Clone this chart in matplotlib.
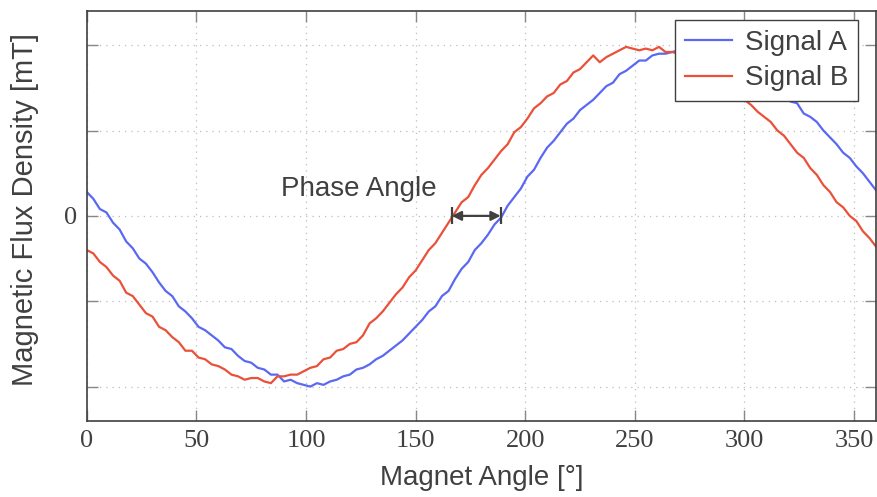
import matplotlib

matplotlib.use("Agg")
import matplotlib.pyplot as plt
import numpy as np

_BLUE = "#5a68f2"
_RED = "#eb5038"
_INK = "#404040"

# magnet angle in degrees, one reading every 3 degrees
angles = np.arange(0, 361, 3)

signal_a = [
    0.14, 0.10, 0.04, 0.02, -0.04, -0.08, -0.15, -0.19, -0.25, -0.28,
    -0.33, -0.39, -0.44, -0.47, -0.53, -0.56, -0.60, -0.65, -0.67, -0.70,
    -0.73, -0.77, -0.78, -0.82, -0.85, -0.86, -0.89, -0.90, -0.93, -0.93,
    -0.97, -0.96, -0.98, -0.99, -1.00, -0.98, -0.99, -0.97, -0.96, -0.94,
    -0.93, -0.90, -0.89, -0.87, -0.84, -0.82, -0.79, -0.76, -0.73, -0.69,
    -0.65, -0.61, -0.56, -0.53, -0.47, -0.44, -0.37, -0.31, -0.27, -0.20,
    -0.16, -0.11, -0.05, -0.01, 0.06, 0.11, 0.16, 0.23, 0.27, 0.34,
    0.40, 0.44, 0.49, 0.54, 0.57, 0.62, 0.65, 0.68, 0.72, 0.76,
    0.78, 0.83, 0.85, 0.88, 0.91, 0.91, 0.94, 0.95, 0.95, 0.96,
    0.97, 0.97, 0.97, 0.96, 0.95, 0.94, 0.92, 0.91, 0.88, 0.87,
    0.84, 0.82, 0.78, 0.77, 0.74, 0.72, 0.70, 0.67, 0.66, 0.60,
    0.58, 0.55, 0.50, 0.46, 0.42, 0.37, 0.34, 0.29, 0.25, 0.20,
    0.15,
]

signal_b = [
    -0.20, -0.22, -0.27, -0.30, -0.35, -0.38, -0.45, -0.47, -0.52, -0.57,
    -0.59, -0.65, -0.67, -0.71, -0.74, -0.79, -0.79, -0.83, -0.84, -0.87,
    -0.88, -0.90, -0.93, -0.94, -0.96, -0.95, -0.95, -0.97, -0.98, -0.94,
    -0.94, -0.93, -0.93, -0.91, -0.89, -0.88, -0.84, -0.83, -0.79, -0.78,
    -0.75, -0.74, -0.70, -0.63, -0.60, -0.56, -0.51, -0.46, -0.42, -0.36,
    -0.32, -0.26, -0.20, -0.16, -0.10, -0.04, 0.02, 0.08, 0.11, 0.18,
    0.24, 0.28, 0.33, 0.38, 0.42, 0.49, 0.52, 0.57, 0.63, 0.66,
    0.70, 0.72, 0.77, 0.79, 0.84, 0.86, 0.90, 0.94, 0.90, 0.93,
    0.95, 0.97, 0.99, 0.98, 0.97, 0.98, 0.97, 0.99, 0.96, 0.96,
    0.95, 0.93, 0.91, 0.88, 0.86, 0.83, 0.80, 0.77, 0.74, 0.71,
    0.68, 0.65, 0.61, 0.58, 0.55, 0.50, 0.47, 0.42, 0.37, 0.34,
    0.28, 0.24, 0.18, 0.14, 0.08, 0.05, 0.00, -0.03, -0.09, -0.13,
    -0.18,
]

x_ticks = [0, 50, 100, 150, 200, 250, 300, 350]
y_ticks = [-1, -0.5, 0, 0.5, 1]
y_tick_labels = ["", "", "0", "", ""]

# phase angle marker: zero crossings of B and A
phase_start = 166.5
phase_end = 188.8

assert len(signal_a) == len(angles) == len(signal_b)

sans = ["Liberation Sans", "DejaVu Sans"]
serif = ["Liberation Serif", "DejaVu Serif"]

fig = plt.figure(figsize=(8.77, 4.97), dpi=100)
ax = fig.add_axes([0.0989, 0.1535, 0.900, 0.8243])

ax.plot(angles, signal_a, color=_BLUE, lw=1.6, label="Signal A")
ax.plot(angles, signal_b, color=_RED, lw=1.6, label="Signal B")

ax.set_xlim(0, 360)
ax.set_ylim(-1.2, 1.2)
ax.set_xticks(x_ticks)
ax.set_yticks(y_ticks)
ax.set_yticklabels(y_tick_labels)
ax.grid(True, linestyle=(0, (1, 4)), color="#bdbdbd", lw=0.9)
ax.tick_params(direction="in", length=8, width=1, color="#888888",
               top=True, right=True, labelsize=19, labelcolor=_INK, pad=7)
for lab in ax.get_xticklabels() + ax.get_yticklabels():
    lab.set_family(serif)
for sp in ax.spines.values():
    sp.set_color(_INK)
    sp.set_linewidth(1.2)

ax.set_xlabel("Magnet Angle [°]", fontsize=20, family=sans, color=_INK)
ax.set_ylabel("Magnetic Flux Density [mT]", fontsize=21, family=sans, color=_INK)
ax.xaxis.set_label_coords(0.5, -0.108)
ax.yaxis.set_label_coords(-0.06, 0.515)

# phase angle annotation
ax.annotate("", xy=(phase_start, 0), xytext=(phase_end, 0),
            arrowprops=dict(arrowstyle="<|-|>", color=_INK, lw=1.6,
                            shrinkA=0, shrinkB=0, mutation_scale=14))
ax.vlines([phase_start, phase_end], -0.05, 0.05, color=_INK, lw=1.6)
ax.text(124, 0.16, "Phase Angle", fontsize=20, family=sans, color=_INK,
        ha="center", va="center")

leg = ax.legend(loc="upper right", bbox_to_anchor=(0.977, 0.978), borderaxespad=0,
                fancybox=False, framealpha=1, edgecolor=_INK, handlelength=1.7,
                labelspacing=0.35, borderpad=0.35, handletextpad=0.45,
                prop={"family": sans, "size": 20})
leg.get_frame().set_linewidth(1.0)
for t in leg.get_texts():
    t.set_color(_INK)

fig.savefig("out.png", dpi=100)
